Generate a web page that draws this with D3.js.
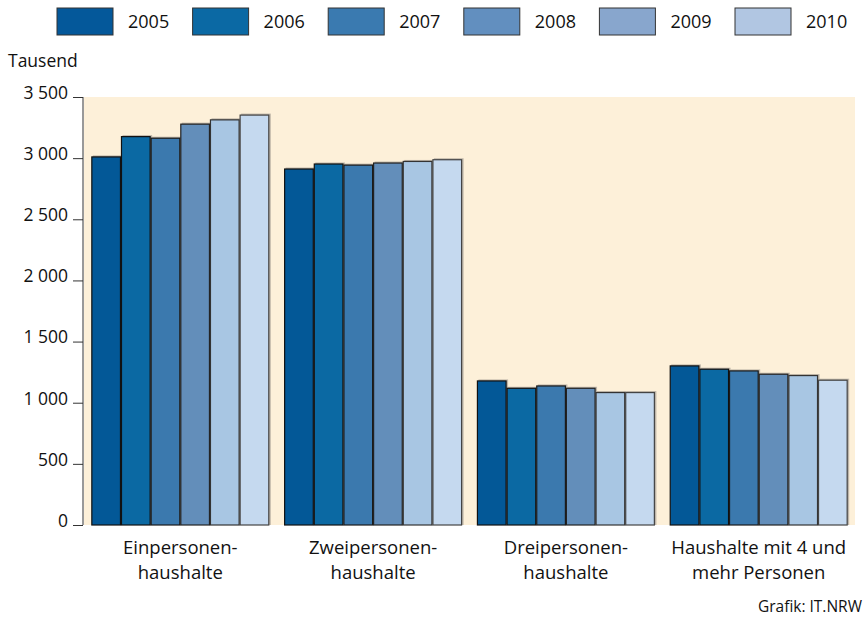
<!DOCTYPE html>
<html>
<head>
<meta charset="utf-8">
<script src="https://cdn.jsdelivr.net/npm/d3@7"></script>
<style>
  body { margin: 0; background: #fff; }
  text { font-family: "Open Sans", "Noto Sans", sans-serif; fill: #111; }
</style>
</head>
<body>
<svg class="chart" width="867" height="624"></svg>
<script>
var categories = [["Einpersonen-", "haushalte"], ["Zweipersonen-", "haushalte"], ["Dreipersonen-", "haushalte"], ["Haushalte mit 4 und", "mehr Personen"]];
var years = ["2005", "2006", "2007", "2008", "2009", "2010"];
// Tausend, one array per year, in category order
var v2005 = [3010, 2911, 1178, 1301];
var v2006 = [3176, 2952, 1118, 1274];
var v2007 = [3163, 2943, 1137, 1260];
var v2008 = [3278, 2960, 1118, 1233];
var v2009 = [3313, 2973, 1083, 1222];
var v2010 = [3352, 2987, 1083, 1184];
var yTicks = [0, 500, 1000, 1500, 2000, 2500, 3000, 3500];

var series = [v2005, v2006, v2007, v2008, v2009, v2010];
var barColors = ["#035897", "#0b69a3", "#3b79ae", "#638eba", "#a8c6e3", "#c5d9ef"];
var legendColors = ["#04589a", "#0b69a4", "#3a7ab0", "#628fbf", "#88a6cd", "#b1c6e2"];
var strokeColors = ["#111", "#111", "#1a1a1a", "#222", "#333", "#444"];

var svg = d3.select(".chart");
var pL = 84, pR = 855, pT = 97, pB = 525;

var x0 = d3.scaleBand().domain(d3.range(categories.length)).range([pL, pR])
  .paddingInner(0.077).paddingOuter(0.038);
var x1 = d3.scaleBand().domain(years).range([0, x0.bandwidth()]);
var y = d3.scaleLinear().domain([0, 3500]).range([pB, pT]);

// plot background
svg.append("rect")
  .attr("x", pL).attr("y", pT)
  .attr("width", pR - pL).attr("height", pB - pT)
  .attr("fill", "#fdf0d9");

// bars
var groups = svg.selectAll("g.grp")
  .data(categories)
  .enter().append("g")
    .attr("class", "grp")
    .attr("transform", function(d, i) { return "translate(" + x0(i) + ",0)"; });

groups.each(function(c, ci) {
  var g = d3.select(this);
  var rows = years.map(function(yr, k) { return { year: yr, k: k, value: series[k][ci] }; });

  // soft shadow
  g.selectAll("rect.shadow").data(rows).enter().append("rect")
    .attr("class", "shadow")
    .attr("x", function(d) { return x1(d.year) + 1.5; })
    .attr("y", function(d) { return y(d.value) - 1.5; })
    .attr("width", x1.bandwidth())
    .attr("height", function(d) { return pB - y(d.value) + 1.5; })
    .attr("fill", "#8a8580").attr("opacity", 0.55);

  g.selectAll("rect.bar").data(rows).enter().append("rect")
    .attr("class", "bar")
    .attr("x", function(d) { return x1(d.year) + 0.5; })
    .attr("y", function(d) { return y(d.value); })
    .attr("width", x1.bandwidth() - 1)
    .attr("height", function(d) { return pB - y(d.value); })
    .attr("fill", function(d) { return barColors[d.k]; })
    .attr("stroke", function(d) { return strokeColors[d.k]; })
    .attr("stroke-width", 1.2);
});

// y axis
var yAxis = svg.append("g")
  .attr("transform", "translate(" + (pL - 1) + ",0)")
  .call(d3.axisLeft(y).tickValues(yTicks).tickSize(10).tickPadding(5)
    .tickFormat(function(d) { return d3.format(",")(d).replace(/,/g, " "); }));
yAxis.select(".domain").attr("stroke", "#555").attr("stroke-width", 1.2).attr("d", "M0," + pT + "V" + pB);
yAxis.selectAll(".tick line").attr("stroke", "#333");
yAxis.selectAll(".tick text")
  .style("font-size", "17.5px")
  .style("font-family", "'Open Sans', sans-serif")
  .attr("dy", "0.08em")
  .attr("fill", "#111");

svg.append("text")
  .attr("x", 8).attr("y", 67)
  .style("font-size", "17.5px")
  .text("Tausend");

// category labels
groups.each(function(c, ci) {
  var t = d3.select(this).append("text")
    .attr("text-anchor", "middle")
    .style("font-size", "18.5px");
  c.forEach(function(line, li) {
    t.append("tspan")
      .attr("x", x0.bandwidth() / 2)
      .attr("y", 554 + li * 25)
      .text(line);
  });
});

// legend
var lg = svg.selectAll("g.leg")
  .data(years)
  .enter().append("g")
    .attr("class", "leg")
    .attr("transform", function(d, i) { return "translate(" + (57 + i * 135.6) + ",8)"; });
lg.append("rect")
  .attr("width", 56).attr("height", 27)
  .attr("fill", function(d, i) { return legendColors[i]; })
  .attr("stroke", "#333").attr("stroke-width", 1);
lg.append("text")
  .attr("x", 71).attr("y", 19.5)
  .style("font-size", "18px")
  .text(function(d) { return d; });

svg.append("text")
  .attr("x", 862).attr("y", 612)
  .attr("text-anchor", "end")
  .style("font-size", "15.5px")
  .text("Grafik: IT.NRW");
</script>
</body>
</html>
